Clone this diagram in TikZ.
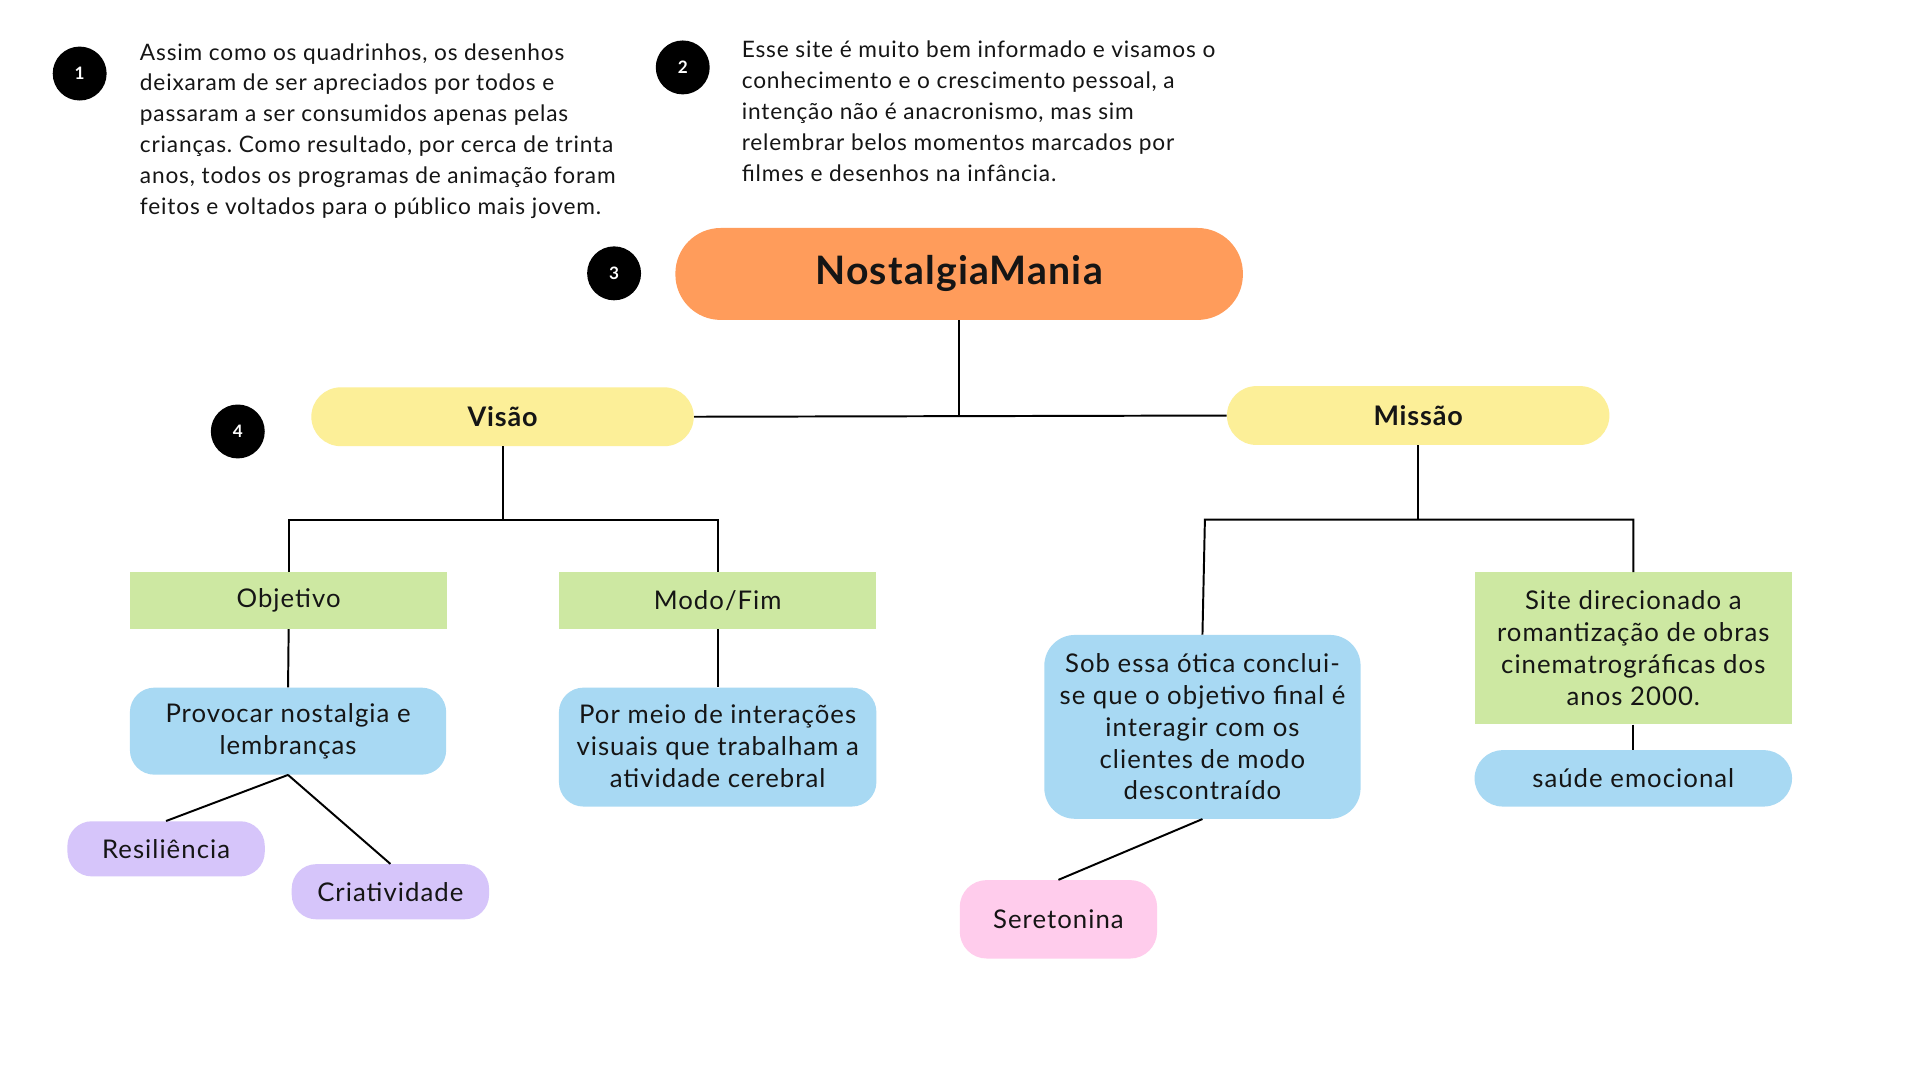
\documentclass[tikz,border=0pt]{standalone}
\usepackage{fontspec}
\setmainfont{Lato}
\frenchspacing
\definecolor{orangec}{HTML}{FF9C5B}
\definecolor{yellowc}{HTML}{FCEF98}
\definecolor{greenc}{HTML}{CDE8A2}
\definecolor{bluec}{HTML}{A8D9F3}
\definecolor{lavc}{HTML}{D6C5FA}
\definecolor{pinkc}{HTML}{FFCCEC}
\definecolor{textc}{HTML}{151515}
\tikzset{
  box/.style={draw=none, inner sep=0pt, align=center, text=textc,
    font=\fontsize{21}{26}\selectfont\addfontfeatures{LetterSpace=4}},
  titlefont/.style={font=\bfseries\fontsize{22}{26}\selectfont\addfontfeatures{LetterSpace=3}},
  badge/.style={circle, fill=black, minimum size=44pt, inner sep=0pt, text=white,
    font=\bfseries\fontsize{14}{14}\selectfont},
  para/.style={anchor=north west, inner sep=0pt, align=left, text=textc,
    font=\fontsize{18.5}{25.2}\selectfont\addfontfeatures{LetterSpace=3.6}},
  conn/.style={draw=black, line width=1.6pt},
}
\begin{document}
\begin{tikzpicture}[x=1pt,y=-1pt]
\useasboundingbox[fill=white] (0,0) rectangle (1566.4,881.1);

% badges
\node[badge] (b1) at (65,60) {1};
\node[badge] (b2) at (557,55) {2};
\node[badge] (b3) at (501,223) {3};
\node[badge] (b4) at (194,352) {4};

% paragraphs
\node[para] (p1) at (114,35.2) {Assim como os quadrinhos, os desenhos\\
deixaram de ser apreciados por todos e\\
passaram a ser consumidos apenas pelas\\
crianças. Como resultado, por cerca de trinta\\
anos, todos os programas de animação foram\\
feitos e voltados para o público mais jovem.};
\node[para] (p2) at (605,33.2) {Esse site é muito bem informado e visamos o\\
conhecimento e o crescimento pessoal, a\\
intenção não é anacronismo, mas sim\\
relembrar belos momentos marcados por\\
filmes e desenhos na infância.};

% main nodes
\node[box, fill=orangec, minimum width=463pt, minimum height=75pt, rounded corners=37pt,
  font=\bfseries\fontsize{32}{38}\selectfont\addfontfeatures{LetterSpace=3}] (nm) at (782.5,223.5) {NostalgiaMania};
\node[box, titlefont, fill=yellowc, minimum width=312pt, minimum height=48pt, rounded corners=24pt] (vis) at (410,340) {Visão};
\node[box, titlefont, fill=yellowc, minimum width=312pt, minimum height=48pt, rounded corners=24pt] (mis) at (1157,339) {Missão};

\node[box, fill=greenc, minimum width=259pt, minimum height=46pt] (obj) at (235.5,490) {Objetivo};
\node[box, fill=greenc, minimum width=259pt, minimum height=46pt] (mf) at (585.5,490) {Modo/Fim};
\node[box, fill=bluec, minimum width=258pt, minimum height=71pt, rounded corners=20pt] (prov) at (235,596.5) {Provocar nostalgia e\\lembranças};
\node[box, fill=bluec, minimum width=259pt, minimum height=97pt, rounded corners=20pt] (por) at (585.5,609.5) {\raisebox{0pt}[0pt][0pt]{}Por meio de interações\\visuais que trabalham a\\atividade cerebral\rule[-2pt]{0pt}{0pt}};
\node[box, fill=lavc, minimum width=161pt, minimum height=45pt, rounded corners=20pt] (res) at (135.5,692.5) {Resiliência};
\node[box, fill=lavc, minimum width=161pt, minimum height=45pt, rounded corners=20pt] (cri) at (318.5,727.5) {Criatividade};

\node[box, fill=bluec, minimum width=258pt, minimum height=150pt, rounded corners=25pt] (sob) at (981,593) {Sob essa ótica conclui-\\se que o objetivo final é\\interagir com os\\clientes de modo\\descontraído};
\node[box, fill=greenc, minimum width=259pt, minimum height=124pt] (site) at (1332.5,529) {Site direcionado a\\romantização de obras\\cinematrográficas dos\\anos 2000.};
\node[box, fill=bluec, minimum width=259pt, minimum height=46pt, rounded corners=23pt] (sau) at (1332.5,635) {saúde emocional};
\node[box, fill=pinkc, minimum width=161pt, minimum height=64pt, rounded corners=22pt] (ser) at (863.5,750) {Seretonina};

% connectors
\draw[conn] (vis.east) -- (mis.west);
\draw[conn] (nm.south) -- (nm.south |- mis.west);

\coordinate (vj) at (410,424);
\draw[conn] (vis.south) -- (vj);
\draw[conn] (obj.north) |- (vj) -| (mf.north);
\draw[conn] (obj.south) -- (prov.north);
\draw[conn] (mf.south) -- (por.north);
\draw[conn] (prov.south) -- (res.north);
\draw[conn] (prov.south) -- (cri.north);

\coordinate (mj) at (1157,424);
\coordinate (ml) at (983,424);
\draw[conn] (mis.south) -- (mj);
\draw[conn] (sob.north) -- (ml) -- (mj) -| (site.north);
\draw[conn] (site.south) -- (sau.north);
\draw[conn] (sob.south) -- (ser.north);
\end{tikzpicture}
\end{document}
